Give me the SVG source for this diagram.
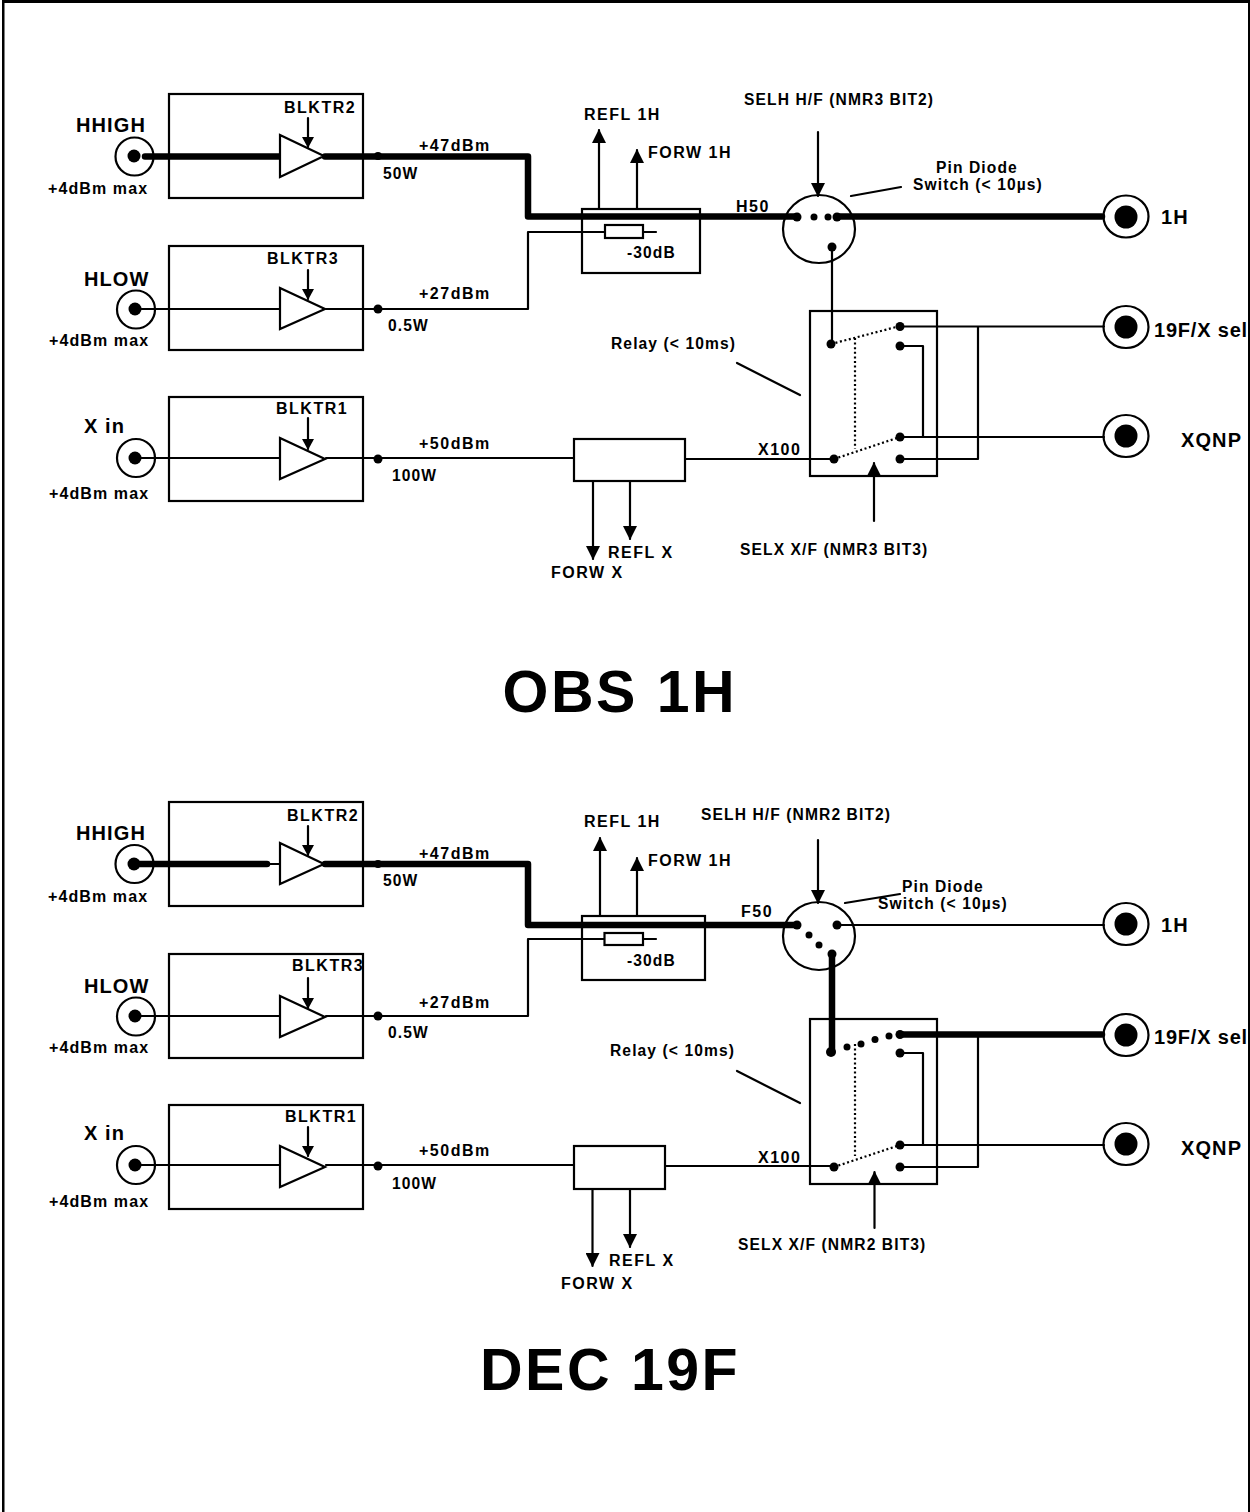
<svg xmlns="http://www.w3.org/2000/svg" width="1250" height="1512" viewBox="0 0 1250 1512">
<defs>
<style>
text{font-family:"Liberation Sans",Arial,sans-serif;font-weight:700;fill:#000}
.s{font-size:15.6px;letter-spacing:1.1px}
.a{font-size:16px;letter-spacing:1.1px}
.c{font-size:16px;letter-spacing:1.5px}
.m{font-size:20px;letter-spacing:1.1px}
.t{font-size:59px;letter-spacing:2.5px}
.n,.th,.w,.d{fill:none;stroke:#000;stroke-linecap:round;stroke-linejoin:round}
.n{stroke-width:2.2}
.th{stroke-width:6.5}
.b{fill:#fff;stroke:#000;stroke-width:2.2}
.o{fill:none;stroke:#000;stroke-width:2.2}
.d{stroke-width:2.2;stroke-dasharray:2 2.6;stroke-linecap:butt}
.h{fill:#000}
</style>
<marker id="big" markerUnits="userSpaceOnUse" markerWidth="16" markerHeight="14" refX="13" refY="7" orient="auto"><path d="M0 0L14 7L0 14Z" fill="#000"/></marker>
<marker id="small" markerUnits="userSpaceOnUse" markerWidth="12" markerHeight="12" refX="10" refY="6" orient="auto"><path d="M0 0L11 6L0 12Z" fill="#000"/></marker>
</defs>
<rect width="1250" height="1512" fill="#fff"/>
<g id="frame">
<path class="h" d="M2 0H1250V1512H1248V3H4.5V1512H2Z"/>
</g>

<g id="connectors">
<path class="th" d="M145 156.5H280M325 156.5H528V216.5H797M837 216.5H1102"/>
<path class="n" d="M135 309H280M326 309H528V232H605M643 232H656"/>
<path class="n" d="M135 458H280M326 458H574M685 459H834"/>
<path class="n" d="M832 247V344M900 326.5H1104M978 326.5V459H900M900 346H923V437M900 437H1104"/>
<path class="d" d="M831 344L900 326M855 338V449M834 459L900 437"/>
<path class="n" d="M851 196L901 187M737 363L800 395"/>
<path class="n" marker-end="url(#big)" d="M599 209V130"/>
<path class="n" marker-end="url(#big)" d="M637 209V150"/>
<path class="n" marker-end="url(#big)" d="M593 481V559"/>
<path class="n" marker-end="url(#big)" d="M630 481V539"/>
<path class="n" marker-end="url(#big)" d="M818 132V196"/>
<path class="n" marker-end="url(#big)" d="M874 521V463"/>
<path class="n" marker-end="url(#small)" d="M308 118V147"/>
<path class="n" marker-end="url(#small)" d="M308 270V299"/>
<path class="n" marker-end="url(#small)" d="M308 418V449"/>

<path class="th" d="M134 864H267M325 864H528V925H797"/>
<path class="n" d="M267 864H280"/>
<path class="n" d="M135 1016H280M326 1016H528V939H605M643 939H656"/>
<path class="n" d="M135 1165H280M326 1165H574M665 1166H834"/>
<path class="n" d="M837 925H1104"/>
<path class="th" d="M832 955V1052M900 1034.5H1102"/>
<path class="n" d="M978 1034.5V1167H900M900 1053H923V1145M900 1145H1104"/>
<path class="d" d="M855 1044V1156M834 1167L900 1145"/>
<path class="n" d="M845 903L900 894M737 1071L800 1103"/>
<path class="n" marker-end="url(#big)" d="M600 916V838"/>
<path class="n" marker-end="url(#big)" d="M637 916V858"/>
<path class="n" marker-end="url(#big)" d="M592.5 1189V1266"/>
<path class="n" marker-end="url(#big)" d="M630 1189V1247"/>
<path class="n" marker-end="url(#big)" d="M818 840V903"/>
<path class="n" marker-end="url(#big)" d="M874.5 1228V1172"/>
<path class="n" marker-end="url(#small)" d="M308 826V855"/>
<path class="n" marker-end="url(#small)" d="M308 978V1008"/>
<path class="n" marker-end="url(#small)" d="M308 1127V1156"/>
</g>

<g id="obs-1h">
<g id="amp-hhigh-1">
<rect class="o" x="169" y="94" width="194" height="104"/><path class="b" d="M280 135V177L324 156Z"/>
<circle class="o" cx="134.5" cy="156.5" r="19"/><circle class="h" cx="134" cy="156" r="6.5"/><circle class="h" cx="378" cy="156" r="4"/>
<text class="m" x="76" y="131.5">HHIGH</text><text class="a" x="48" y="194">+4dBm max</text><text class="c" x="284" y="113">BLKTR2</text>
<text class="c" x="419" y="151">+47dBm</text><text class="s" x="383" y="178.5">50W</text>
</g>
<g id="amp-hlow-1">
<rect class="o" x="169" y="246" width="194" height="104"/><path class="b" d="M280 288V329L325 309Z"/>
<circle class="o" cx="136" cy="309.5" r="19"/><circle class="h" cx="135" cy="309" r="6.5"/><circle class="h" cx="378" cy="309" r="4.5"/>
<text class="m" x="84" y="286">HLOW</text><text class="a" x="49" y="346">+4dBm max</text><text class="c" x="267" y="263.5">BLKTR3</text>
<text class="c" x="419" y="299">+27dBm</text><text class="s" x="388" y="330.5">0.5W</text>
</g>
<g id="amp-x-1">
<rect class="o" x="169" y="397" width="194" height="104"/><path class="b" d="M280 438V479L325 459Z"/>
<circle class="o" cx="136" cy="458" r="19"/><circle class="h" cx="135" cy="458" r="6.5"/><circle class="h" cx="378" cy="459" r="4.5"/>
<text class="m" x="84" y="433">X in</text><text class="a" x="49" y="499">+4dBm max</text><text class="c" x="276" y="414">BLKTR1</text>
<text class="c" x="419" y="449">+50dBm</text><text class="s" x="392" y="481">100W</text>
</g>
<g id="coupler-h-1">
<rect class="o" x="582" y="209" width="118" height="64"/><rect class="b" x="605" y="225" width="38" height="13"/>
<text class="s" x="627" y="258">-30dB</text><text class="c" x="584" y="120">REFL 1H</text><text class="c" x="648" y="158">FORW 1H</text><text class="c" x="736" y="212">H50</text>
</g>
<g id="coupler-x-1">
<rect class="b" x="574" y="439" width="111" height="42"/>
<text class="c" x="608" y="558">REFL X</text><text class="c" x="551" y="578">FORW X</text>
</g>
<g id="pin-switch-1">
<ellipse class="o" cx="819" cy="229" rx="36" ry="34"/>
<circle class="h" cx="797" cy="217" r="4.5"/><circle class="h" cx="814" cy="217" r="3.5"/><circle class="h" cx="828" cy="217" r="3.5"/><circle class="h" cx="837" cy="217" r="4.5"/><circle class="h" cx="832" cy="247" r="4.5"/>
<text class="s" x="744" y="105">SELH H/F (NMR3 BIT2)</text>
<text class="s" x="936" y="172.5">Pin Diode</text><text class="s" x="913" y="190">Switch (&lt; 10µs)</text>
</g>
<g id="relay-1">
<rect class="o" x="810" y="311" width="127" height="165"/>
<circle class="h" cx="831" cy="344" r="4.5"/><circle class="h" cx="900" cy="326.5" r="4.5"/><circle class="h" cx="900" cy="346" r="4.5"/><circle class="h" cx="900" cy="437" r="4.5"/><circle class="h" cx="900" cy="459" r="4.5"/><circle class="h" cx="834" cy="459" r="4.5"/>
<text class="s" x="611" y="349">Relay (&lt; 10ms)</text><text class="c" x="758" y="455">X100</text><text class="s" x="740" y="555">SELX X/F (NMR3 BIT3)</text>
</g>
<g id="out-1h-1"><ellipse class="o" cx="1126" cy="216.5" rx="22.5" ry="21"/><circle class="h" cx="1126" cy="217" r="11.5"/><text class="m" x="1161" y="223.5">1H</text></g>
<g id="out-19f-1"><ellipse class="o" cx="1126" cy="327" rx="22.5" ry="21"/><circle class="h" cx="1126" cy="327" r="11.5"/><text class="m" x="1154" y="337" style="letter-spacing:.8px">19F/X sel</text></g>
<g id="out-xqnp-1"><ellipse class="o" cx="1126" cy="436" rx="22.5" ry="21"/><circle class="h" cx="1126" cy="436" r="11.5"/><text class="m" x="1181" y="447">XQNP</text></g>
<text id="title-1" class="t" x="502.5" y="712">OBS 1H</text>
</g>

<g id="dec-19f">
<g id="amp-hhigh-2">
<rect class="o" x="169" y="802" width="194" height="104"/><path class="b" d="M280 843V884L324 864Z"/>
<circle class="o" cx="134.5" cy="864" r="19"/><circle class="h" cx="134" cy="864" r="6.5"/><circle class="h" cx="378" cy="864" r="4"/>
<text class="m" x="76" y="840">HHIGH</text><text class="a" x="48" y="902">+4dBm max</text><text class="c" x="287" y="821">BLKTR2</text>
<text class="c" x="419" y="859">+47dBm</text><text class="s" x="383" y="886">50W</text>
</g>
<g id="amp-hlow-2">
<rect class="o" x="169" y="954" width="194" height="104"/><path class="b" d="M280 996V1037L325 1017Z"/>
<circle class="o" cx="136" cy="1016.5" r="19"/><circle class="h" cx="135" cy="1016" r="6.5"/><circle class="h" cx="378" cy="1016" r="4.5"/>
<text class="m" x="84" y="993">HLOW</text><text class="a" x="49" y="1053">+4dBm max</text><text class="c" x="292" y="971">BLKTR3</text>
<text class="c" x="419" y="1008">+27dBm</text><text class="s" x="388" y="1038">0.5W</text>
</g>
<g id="amp-x-2">
<rect class="o" x="169" y="1105" width="194" height="104"/><path class="b" d="M280 1146V1187L325 1167Z"/>
<circle class="o" cx="136" cy="1165" r="19"/><circle class="h" cx="135" cy="1165" r="6.5"/><circle class="h" cx="378" cy="1166" r="4.5"/>
<text class="m" x="84" y="1140">X in</text><text class="a" x="49" y="1207">+4dBm max</text><text class="c" x="285" y="1122">BLKTR1</text>
<text class="c" x="419" y="1156">+50dBm</text><text class="s" x="392" y="1189">100W</text>
</g>
<g id="coupler-h-2">
<rect class="o" x="582" y="916" width="123" height="64"/><rect class="b" x="604.5" y="933" width="38.5" height="12"/>
<text class="s" x="627" y="966">-30dB</text><text class="c" x="584" y="827">REFL 1H</text><text class="c" x="648" y="866">FORW 1H</text><text class="c" x="741" y="917">F50</text>
</g>
<g id="coupler-x-2">
<rect class="b" x="574" y="1146" width="91" height="43"/>
<text class="c" x="609" y="1266">REFL X</text><text class="c" x="561" y="1289">FORW X</text>
</g>
<g id="pin-switch-2">
<ellipse class="o" cx="819" cy="936" rx="36" ry="34"/>
<circle class="h" cx="797" cy="925" r="4.5"/><circle class="h" cx="809" cy="935" r="3.5"/><circle class="h" cx="819" cy="945" r="3.5"/><circle class="h" cx="837" cy="925" r="4.5"/><circle class="h" cx="832" cy="954" r="4.5"/>
<text class="s" x="701" y="820">SELH H/F (NMR2 BIT2)</text>
<text class="s" x="902" y="892">Pin Diode</text><text class="s" x="878" y="909">Switch (&lt; 10µs)</text>
</g>
<g id="relay-2">
<rect class="o" x="810" y="1019" width="127" height="165"/>
<circle class="h" cx="831" cy="1052" r="5"/><circle class="h" cx="847" cy="1047" r="3.5"/><circle class="h" cx="861" cy="1044" r="3.5"/><circle class="h" cx="875" cy="1039.5" r="3.5"/><circle class="h" cx="889" cy="1036" r="3.5"/><circle class="h" cx="900" cy="1034.5" r="4.5"/><circle class="h" cx="900" cy="1053" r="4.5"/><circle class="h" cx="900" cy="1145" r="4.5"/><circle class="h" cx="900" cy="1167" r="4.5"/><circle class="h" cx="834" cy="1167" r="4.5"/>
<text class="s" x="610" y="1056">Relay (&lt; 10ms)</text><text class="c" x="758" y="1162.5">X100</text><text class="s" x="738" y="1250">SELX X/F (NMR2 BIT3)</text>
</g>
<g id="out-1h-2"><ellipse class="o" cx="1126" cy="924" rx="22.5" ry="21"/><circle class="h" cx="1126" cy="924" r="11.5"/><text class="m" x="1161" y="932">1H</text></g>
<g id="out-19f-2"><ellipse class="o" cx="1126" cy="1035" rx="22.5" ry="21"/><circle class="h" cx="1126" cy="1035" r="11.5"/><text class="m" x="1154" y="1044" style="letter-spacing:.8px">19F/X sel</text></g>
<g id="out-xqnp-2"><ellipse class="o" cx="1126" cy="1144" rx="22.5" ry="21"/><circle class="h" cx="1126" cy="1144" r="11.5"/><text class="m" x="1181" y="1155">XQNP</text></g>
<text id="title-2" class="t" x="480" y="1389.5">DEC 19F</text>
</g>
</svg>
